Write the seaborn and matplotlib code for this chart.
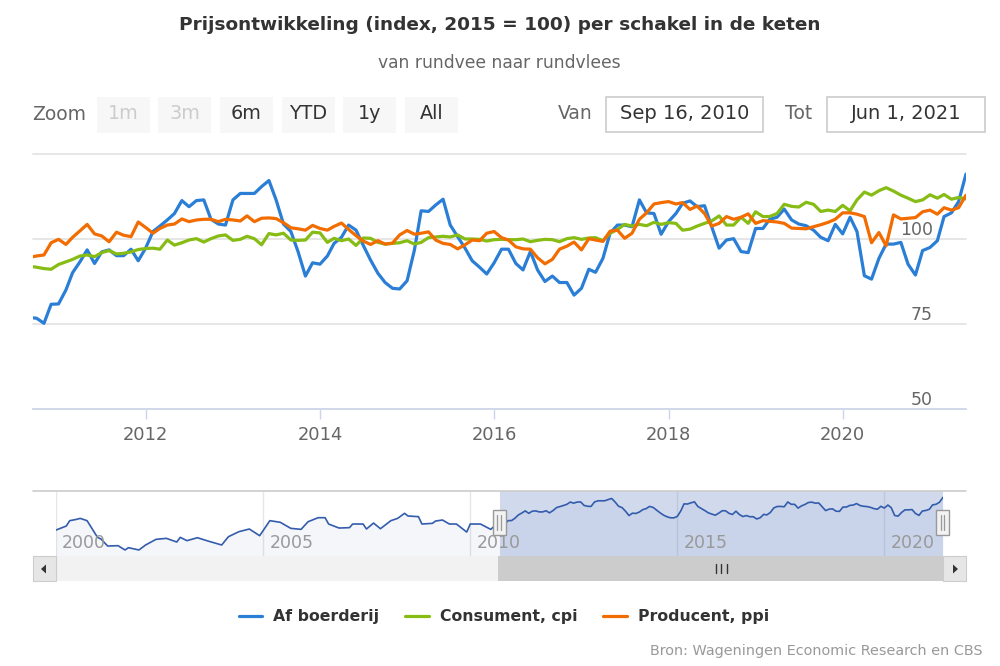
import matplotlib
matplotlib.use("Agg")
import matplotlib.pyplot as plt
from matplotlib.patches import Rectangle, Polygon
import numpy as np
import pandas as pd
import seaborn as sns

af_boerderij = [76.9,76.7,75.2,80.8,80.9,85.0,90.1,93.3,96.8,92.8,96.2,96.8,95.1,95.1,97.0,93.6,
    97.3,102.2,103.8,105.6,107.5,111.3,109.5,111.3,111.5,105.8,104.4,104.1,
    111.5,113.4,113.4,113.4,115.4,117.2,111.5,104.4,102.2,96.3,89.1,93.0,
    92.6,95.0,98.7,100.5,104.1,102.6,98.2,93.8,89.9,87.2,85.5,85.3,
    87.7,96.8,108.3,108.1,110.0,111.7,104.1,100.7,97.3,93.6,91.7,89.7,
    93.0,97.0,97.0,92.8,90.9,96.3,90.9,87.5,89.1,87.2,87.2,83.5,
    85.5,91.1,90.2,94.3,101.7,104.1,104.1,103.6,111.5,107.7,107.5,101.4,
    105.1,107.5,110.5,111.2,109.5,109.8,103.6,97.3,99.7,100.1,96.3,96.0,
    103.1,103.1,105.8,106.4,108.8,105.6,104.4,103.9,102.6,100.5,99.5,104.3,
    101.5,106.4,102.2,89.2,88.2,94.3,98.5,98.5,99.0,92.6,89.4,96.6,
    97.5,99.5,106.6,107.7,111.0,119.1]
consument = [92.0,91.7,91.3,91.1,92.5,93.3,94.0,95.0,95.3,94.8,96.0,96.6,95.6,95.8,96.2,96.9,
    97.2,97.3,97.0,99.7,98.2,98.9,99.7,100.1,99.1,100.1,100.9,101.2,
    99.6,99.9,100.8,100.1,98.3,101.6,101.2,101.7,99.7,99.6,99.7,102.0,
    101.8,99.0,100.2,99.5,100.0,98.1,100.3,100.2,99.0,98.5,98.7,98.9,
    99.5,98.5,99.0,100.4,100.6,100.8,100.6,101.2,100.0,100.0,99.9,99.4,
    99.8,99.9,99.8,99.8,100.0,99.2,99.6,99.9,99.8,99.2,100.1,100.4,
    99.9,100.3,100.4,99.5,101.7,102.8,104.3,103.8,104.3,103.9,104.9,104.3,
    104.8,104.6,102.6,102.9,103.8,104.6,105.3,106.8,104.1,104.1,106.4,104.6,
    108.0,106.6,106.6,107.5,110.2,109.6,109.4,110.8,110.2,108.1,108.5,108.1,
    109.9,108.3,111.5,113.8,112.9,114.2,115.1,114.1,112.9,112.0,111.0,111.5,
    113.0,112.0,113.1,111.7,112.2,111.8]
producent = [94.6,95.0,95.3,98.9,99.9,98.4,100.5,102.4,104.3,101.5,100.9,99.2,102.0,101.1,100.7,105.0,
    103.4,101.7,103.1,104.1,104.4,105.9,105.1,105.6,105.8,105.8,105.1,105.8,
    105.6,105.3,106.8,105.1,106.1,106.2,106.0,104.8,103.3,103.0,102.6,104.0,
    103.1,102.6,103.7,104.7,102.8,101.0,99.4,98.4,99.5,98.5,98.8,101.2,
    102.5,101.4,101.7,102.1,99.7,98.7,98.4,97.1,98.3,99.7,99.5,101.7,
    102.2,100.4,99.7,97.7,97.1,97.0,94.5,92.7,94.0,97.0,97.9,99.1,
    96.8,100.1,99.7,99.3,102.3,102.6,100.2,101.7,105.8,107.7,110.3,110.7,
    111.0,110.3,110.7,108.7,109.7,107.5,103.8,104.6,106.6,105.8,106.4,107.4,
    104.6,105.4,105.2,105.0,104.6,103.2,103.1,103.0,103.6,104.2,104.9,105.8,
    107.7,107.7,107.3,106.6,98.9,101.9,98.0,107.1,105.9,106.1,106.3,108.0,
    108.5,107.3,109.2,108.5,109.2,112.9]

early_dates = ["2000-01","2000-04","2000-05","2000-07","2000-08","2000-10","2001-01","2001-02","2001-04","2001-07",
    "2001-09","2001-10","2002-01","2002-03","2002-06","2002-09","2002-12","2003-01","2003-03","2003-06",
    "2003-09","2003-12","2004-01","2004-03","2004-06","2004-09","2004-12","2005-03","2005-06","2005-09",
    "2005-12","2006-02","2006-05","2006-07","2006-08","2006-11","2007-02","2007-03","2007-06","2007-07",
    "2007-09","2007-11","2008-02","2008-04","2008-06","2008-07","2008-10","2008-11","2009-02","2009-03",
    "2009-05","2009-07","2009-09","2009-12","2010-01","2010-04","2010-07"]
early_values = [65.3,71.9,80.7,82.9,84.5,80.7,53.3,50.5,39.0,39.6,32.5,36.3,32.5,40.7,50.0,51.6,45.6,53.3,47.8,52.7,
    47.3,42.3,40.7,54.4,62.6,67.0,56.0,80.7,78.0,68.1,66.4,79.0,85.6,85.6,75.2,68.6,69.2,75.2,75.2,67.0,
    76.8,67.5,80.7,84.5,92.8,88.4,87.3,75.2,76.3,80.1,81.8,75.2,75.2,62.0,75.2,75.2,66.4]

title = "Prijsontwikkeling (index, 2015 = 100) per schakel in de keten"
subtitle = "van rundvee naar rundvlees"
source = "Bron: Wageningen Economic Research en CBS"
series_names = ["Af boerderij", "Consument, cpi", "Producent, ppi"]
series_colors = ["#2a7ed6", "#86bc14", "#f26c00"]
zoom_labels = ["1m", "3m", "6m", "YTD", "1y", "All"]
y_ticks = [50, 75, 100, 125]
main_years = [2012, 2014, 2016, 2018, 2020]
nav_years = [2000, 2005, 2010, 2015, 2020]

dates = pd.date_range("2010-09-01", periods=len(af_boerderij), freq="MS")
df = pd.DataFrame({"date": dates, series_names[0]: af_boerderij,
                   series_names[1]: consument, series_names[2]: producent})
nav = pd.DataFrame({"date": list(pd.to_datetime(early_dates)) + list(dates),
                    "value": early_values + af_boerderij})

sns.set_theme(style="white")
plt.rcParams["font.family"] = ["DejaVu Sans"]
W, H = 1000, 666
fig = plt.figure(figsize=(W / 100, H / 100), dpi=100, facecolor="white")

def px_axes(x0, y0, x1, y1, **kw):
    return fig.add_axes([x0 / W, 1 - y1 / H, (x1 - x0) / W, (y1 - y0) / H], **kw)

# main chart
ax = px_axes(33, 154, 966, 409)
for name, color in zip(series_names, series_colors):
    sns.lineplot(data=df, x="date", y=name, color=color, linewidth=2.3, ax=ax, label=name,
                 solid_joinstyle="round", clip_on=True, zorder=3)
ax.set_xlim(pd.Timestamp("2010-09-16"), pd.Timestamp("2021-06-01"))
ax.set_ylim(50, 125)
ax.set_xlabel("")
ax.set_ylabel("")
ax.set_yticks(y_ticks)
ax.set_yticklabels([])
ax.tick_params(axis="y", length=0)
ax.yaxis.grid(True, color="#e6e6e6", linewidth=1.4)
for g in ax.get_ygridlines():
    g.set_clip_on(False)
ax.set_axisbelow(True)
ax.set_xticks([pd.Timestamp(f"{y}-01-01") for y in main_years])
ax.set_xticklabels([str(y) for y in main_years], fontsize=12.9, color="#666666")
ax.tick_params(axis="x", length=7, width=1, color="#ccd6eb", pad=5, bottom=True)
for s in ["top", "left", "right"]:
    ax.spines[s].set_visible(False)
ax.spines["bottom"].set_color("#ccd6eb")
ax.spines["bottom"].set_linewidth(1.2)
for v in y_ticks[:3]:
    ax.annotate(str(v), (933, v), xycoords=("figure pixels", "data"), xytext=(0, 0.3),
                textcoords="offset points", ha="right", va="bottom", fontsize=12.5,
                color="#666666", zorder=5)
leg = ax.legend(loc="center", bbox_to_anchor=(504 / W, 1 - 617 / H), bbox_transform=fig.transFigure,
                ncol=3, frameon=False, handlelength=1.5, handletextpad=0.7, columnspacing=1.65,
                prop={"weight": "bold", "size": 11.3})
for t in leg.get_texts():
    t.set_color("#333333")

# navigator
nx = px_axes(56, 491, 943, 556)
nx.fill_between(nav["date"], nav["value"], 0, color="#335cad", alpha=0.05, linewidth=0)
sns.lineplot(data=nav, x="date", y="value", color="#335cad", linewidth=1.2, ax=nx, zorder=3)
nx.set_xlim(pd.Timestamp("2000-01-01"), pd.Timestamp("2021-06-01"))
nx.set_ylim(22.6, 129.5)
nx.set_xlabel("")
nx.set_ylabel("")
nx.set_yticks([])
nx.set_xticks([pd.Timestamp(f"{y}-01-01") for y in nav_years])
nx.set_xticklabels([])
nx.tick_params(axis="x", length=0)
nx.xaxis.grid(True, color="#e6e6e6", linewidth=1)
nx.set_axisbelow(True)
for s in nx.spines.values():
    s.set_visible(False)
nx.axvspan(pd.Timestamp("2010-09-16"), pd.Timestamp("2021-06-01"), color="#6685c2", alpha=0.3,
           linewidth=0, zorder=2)
for y in nav_years:
    nx.annotate(str(y), (pd.Timestamp(f"{y}-01-01"), 0), xycoords=("data", "axes fraction"),
                xytext=(4.4, 6), textcoords="offset points", fontsize=12.5, color="#999999", zorder=4)

# page chrome in pixel coordinates
ui = fig.add_axes([0, 0, 1, 1], zorder=10)
ui.set_xlim(0, W)
ui.set_ylim(H, 0)
ui.axis("off")
ui.patch.set_alpha(0)

ui.text(500, 25, title, ha="center", va="center", fontsize=13.3, fontweight="bold", color="#333333")
ui.text(499.5, 63.5, subtitle, ha="center", va="center", fontsize=12.3, color="#666666")
ui.text(59.5, 115, "Zoom", ha="center", va="center", fontsize=13.5, color="#666666")

button_x = [97, 158, 220, 282, 343, 405]
for label, bx in zip(zoom_labels, button_x):
    ui.add_patch(Rectangle((bx, 97), 53, 36, facecolor="#f7f7f7", edgecolor="none"))
    muted = label in ("1m", "3m")
    ui.text(bx + 26.5, 113.5, label, ha="center", va="center", fontsize=13.8,
            color="#cccccc" if muted else "#333333")

ui.text(575, 113.5, "Van", ha="center", va="center", fontsize=13.5, color="#666666")
ui.text(799, 113.5, "Tot", ha="center", va="center", fontsize=13.5, color="#666666")
for x0, x1, txt in [(606, 763, "Sep 16, 2010"), (827, 985, "Jun 1, 2021")]:
    ui.add_patch(Rectangle((x0, 97), x1 - x0, 35, facecolor="white", edgecolor="#cccccc", linewidth=1.2))
    ui.text((x0 + x1) / 2, 113.5, txt, ha="center", va="center", fontsize=14, color="#333333")

ui.plot([33, 966], [491, 491], color="#cccccc", linewidth=1.2)
ui.add_patch(Rectangle((56, 556), 442, 25, facecolor="#f2f2f2", edgecolor="none"))
ui.add_patch(Rectangle((498, 556), 445, 25, facecolor="#cccccc", edgecolor="none"))
for x0 in (33, 943):
    ui.add_patch(Rectangle((x0, 556), 23, 25, facecolor="#e6e6e6", edgecolor="#cccccc", linewidth=0.8))
ui.add_patch(Polygon([[41, 569], [46, 564.5], [46, 573.5]], closed=True, facecolor="#333333", edgecolor="none"))
ui.add_patch(Polygon([[958, 569], [953, 564.5], [953, 573.5]], closed=True, facecolor="#333333", edgecolor="none"))
for bar_x in (715.5, 721, 726.5):
    ui.plot([bar_x, bar_x], [563.5, 572.5], color="#333333", linewidth=1)
for hx in (499, 942.5):
    ui.add_patch(Rectangle((hx - 6.5, 510), 13, 25, facecolor="#f2f2f2", edgecolor="#999999", linewidth=1))
    for d in (-1.7, 1.7):
        ui.plot([hx + d, hx + d], [515, 530], color="#999999", linewidth=0.9)

ui.text(983, 651.5, source, ha="right", va="center", fontsize=10.35, color="#999999")

fig.savefig("out.png", dpi=100, facecolor="white")
